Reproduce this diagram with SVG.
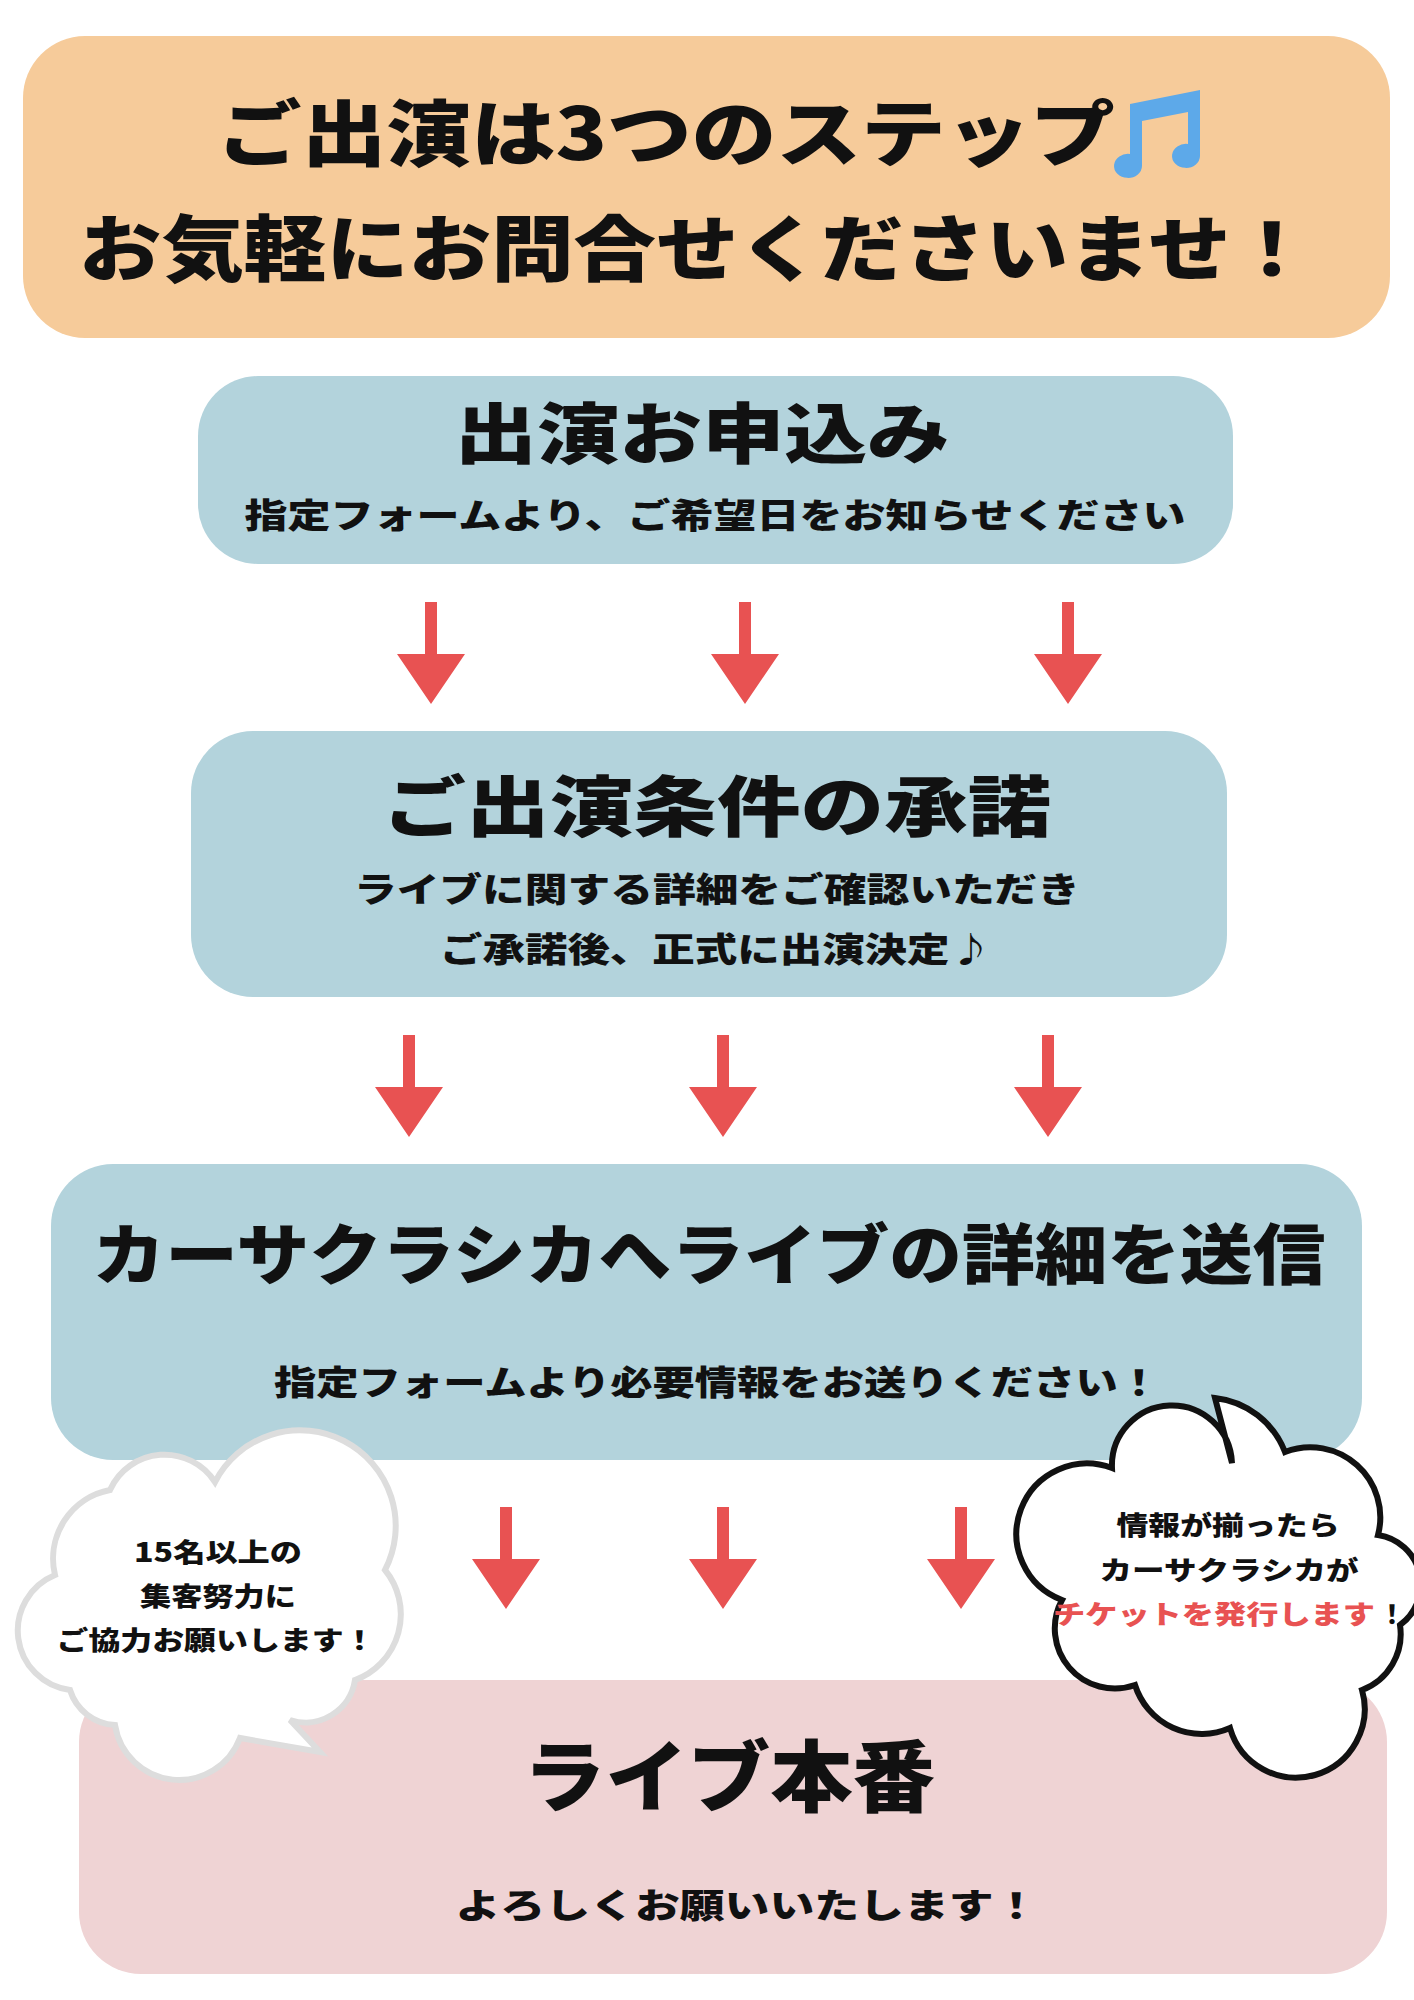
<svg xmlns="http://www.w3.org/2000/svg" width="1414" height="2000" viewBox="0 0 1414 2000">
<style>
text{font-family:"Noto Sans CJK JP","Noto Sans CJK SC",sans-serif;font-weight:900;fill:#111;text-anchor:middle}
.t{font-size:66px}.s{font-size:34px}.b{font-size:26px}
.arr{fill:#E85252}
</style>
<defs>
<path id="ar" d="M-6,0 H6 V52 H34 L0,102 L-34,52 H-6 Z"/>
</defs>
<rect width="1414" height="2000" fill="#fff"/>
<g id="header">
<rect x="23" y="36" width="1367" height="302" rx="62" fill="#F6CB9A"/>
<text x="666" y="160" style="font-size:72px" textLength="898" lengthAdjust="spacingAndGlyphs">ご出演は3つのステップ</text>
<g fill="#5DA9E9"><path d="M1130,104 L1200,90 V156 A14,12 0 1 1 1188,144 V112 L1142,121 V166 A14,12 0 1 1 1130,154 Z"/></g>
<text x="696" y="275" style="font-size:72px" textLength="1234" lengthAdjust="spacingAndGlyphs">お気軽にお問合せくださいませ！</text>
</g>
<g id="step1">
<rect x="198" y="376" width="1035" height="188" rx="60" fill="#B3D3DC"/>
<text class="t" x="702" y="458" textLength="495" lengthAdjust="spacingAndGlyphs">出演お申込み</text>
<text class="s" x="715" y="528" textLength="941" lengthAdjust="spacingAndGlyphs">指定フォームより、ご希望日をお知らせください</text>
</g>
<g id="step2">
<rect x="191" y="731" width="1036" height="266" rx="62" fill="#B3D3DC"/>
<text class="t" x="717" y="831" textLength="669" lengthAdjust="spacingAndGlyphs">ご出演条件の承諾</text>
<text class="s" x="717" y="902" textLength="726" lengthAdjust="spacingAndGlyphs">ライブに関する詳細をご確認いただき</text>
<text class="s" x="716" y="962" textLength="552" lengthAdjust="spacingAndGlyphs">ご承諾後、正式に出演決定♪</text>
</g>
<g id="step3">
<rect x="51" y="1164" width="1311" height="296" rx="62" fill="#B3D3DC"/>
<text class="t" x="709" y="1279" textLength="1233" lengthAdjust="spacingAndGlyphs">カーサクラシカへライブの詳細を送信</text>
<text class="s" x="717" y="1395" textLength="886" lengthAdjust="spacingAndGlyphs">指定フォームより必要情報をお送りください！</text>
</g>
<g id="step4">
<rect x="79" y="1680" width="1308" height="294" rx="62" fill="#EFD3D4"/>
<text x="729" y="1806" style="font-size:78px" textLength="412" lengthAdjust="spacingAndGlyphs">ライブ本番</text>
<text class="s" x="747" y="1918" textLength="583" lengthAdjust="spacingAndGlyphs">よろしくお願いいたします！</text>
</g>
<g id="connectors" class="arr">
<use href="#ar" x="431" y="602"/><use href="#ar" x="745" y="602"/><use href="#ar" x="1068" y="602"/>
<use href="#ar" x="409" y="1035"/><use href="#ar" x="723" y="1035"/><use href="#ar" x="1048" y="1035"/>
<use href="#ar" x="506" y="1507"/><use href="#ar" x="723" y="1507"/><use href="#ar" x="961" y="1507"/>
</g>
<g id="bubble-left">
<path d="M70,1690 A60,60 0 0 1 55,1575 A70,70 0 0 1 110,1490 A60,60 0 0 1 215,1482 A85,85 0 0 1 385,1570 A70,70 0 0 1 355,1680 A50,50 0 0 1 290,1720 L320,1752 L240,1738 A65,65 0 0 1 115,1725 A50,50 0 0 1 70,1690 Z" fill="#fff" stroke="#DDDDDD" stroke-width="6"/>
<text class="b" x="218" y="1562" textLength="168" lengthAdjust="spacingAndGlyphs">15名以上の</text>
<text class="b" x="218" y="1606" textLength="156" lengthAdjust="spacingAndGlyphs">集客努力に</text>
<text class="b" x="216" y="1650" textLength="319" lengthAdjust="spacingAndGlyphs">ご協力お願いします！</text>
</g>
<g id="bubble-right">
<path d="M1062,1600 A70,70 0 0 1 1112,1468 A60,60 0 0 1 1232,1463 L1215,1398 A85,85 0 0 1 1285,1452 A70,70 0 0 1 1378,1535 A50,50 0 0 1 1400,1625 A60,60 0 0 1 1362,1690 A65,65 0 0 1 1230,1728 A70,70 0 0 1 1135,1685 A60,60 0 0 1 1062,1600 Z" fill="#fff" stroke="#111" stroke-width="6"/>
<text class="b" x="1228" y="1535" textLength="223" lengthAdjust="spacingAndGlyphs">情報が揃ったら</text>
<text class="b" x="1229" y="1580" textLength="259" lengthAdjust="spacingAndGlyphs">カーサクラシカが</text>
<text class="b" x="1214" y="1624" textLength="322" lengthAdjust="spacingAndGlyphs" style="fill:#E85252">チケットを発行します</text>
<text class="b" x="1392" y="1624">！</text>
</g>
</svg>
